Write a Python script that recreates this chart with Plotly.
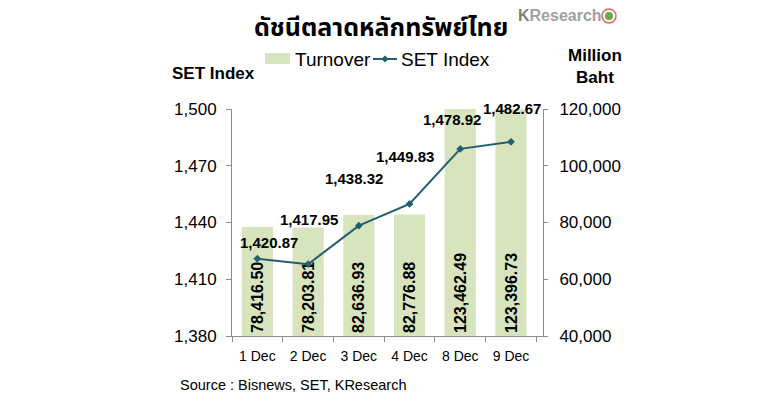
import plotly.graph_objects as go

categories = ["1 Dec", "2 Dec", "3 Dec", "4 Dec", "8 Dec", "9 Dec"]
turnover = [78416.50, 78203.81, 82636.93, 82776.88, 123462.49, 123396.73]
set_index = [1420.87, 1417.95, 1438.32, 1449.83, 1478.92, 1482.67]
left_ticks = [1380, 1410, 1440, 1470, 1500]
right_ticks = [40000, 60000, 80000, 100000, 120000]

# label offsets (px) for the SET Index labels (style only)
label_yshift = [16, 45, 47, 47, 29, 33]
label_xshift = [12, 1, -5, -5, -8, 1]

FONT = "Liberation Sans, Arial, sans-serif"
BAR_COLOR = "#d7e4bd"
LINE_COLOR = "#215e6e"
AXIS_COLOR = "#8c8c8c"
RIGHT_MIN = right_ticks[0]

# page body has an 8px default margin; figure is sized to fit the 780x405 window
OFF = 8
W, H = 780 - 2 * OFF, 405 - 2 * OFF
# plot area in window pixels
L0, R0, T0, B0 = 232, 543, 109, 336
L, R, T, B = L0 - OFF, R0 - OFF, T0 - OFF, B0 - OFF

fig = go.Figure()
fig.add_trace(go.Bar(
    x=categories, y=[v - RIGHT_MIN for v in turnover], base=RIGHT_MIN,
    name="Turnover", yaxis="y",
    marker=dict(color=BAR_COLOR, line=dict(width=0)),
    text=[f"{v:,.2f}" for v in turnover], textposition="inside",
    insidetextanchor="start", textangle=-90, constraintext="none",
    textfont=dict(family=FONT, size=16, color="black", weight="bold"),
    hoverinfo="skip",
))
fig.add_trace(go.Scatter(
    x=categories, y=set_index, name="SET Index", yaxis="y2",
    mode="lines+markers",
    line=dict(color=LINE_COLOR, width=2),
    marker=dict(symbol="diamond", size=6, color=LINE_COLOR),
))

for c, v, dy, dx in zip(categories, set_index, label_yshift, label_xshift):
    fig.add_annotation(x=c, y=v, xref="x", yref="y2", text=f"{v:,.2f}",
                       showarrow=False, yshift=dy, xshift=dx,
                       font=dict(family=FONT, size=15, color="black", weight="bold"))


def px(xp):
    return (xp - L0) / (R0 - L0)


def py(yp):
    return (B0 - yp) / (B0 - T0)


def note(x, y, text, size, bold=False, color="black", xanchor="center", family=FONT):
    fig.add_annotation(x=px(x), y=py(y), xref="paper", yref="paper", text=text,
                       showarrow=False, xanchor=xanchor, yanchor="middle",
                       font=dict(family=family, size=size, color=color,
                                 weight="bold" if bold else "normal"))


# title and logo
note(381, 28, "ดัชนีตลาดหลักทรัพย์ไทย", 25, bold=True,
     family="Noto Sans Thai, Tahoma, sans-serif")
note(516, 16, "<span style='color:#7f7f7f'>K</span>Research", 16, bold=True,
     color="#a0a0a0", xanchor="left")
fig.add_shape(type="circle", xref="paper", yref="paper",
              x0=px(602), x1=px(616), y0=py(23), y1=py(9),
              line=dict(color="#e06666", width=1.5), fillcolor="#f4f8ee")
fig.add_shape(type="circle", xref="paper", yref="paper",
              x0=px(605), x1=px(613), y0=py(20), y1=py(12),
              line=dict(width=0), fillcolor="#6aa84f")

# custom legend
fig.add_shape(type="rect", xref="paper", yref="paper",
              x0=px(265), x1=px(290), y0=py(64), y1=py(53),
              line=dict(width=0), fillcolor=BAR_COLOR)
note(293, 59, "Turnover", 19, xanchor="left")
fig.add_shape(type="line", xref="paper", yref="paper",
              x0=px(373), x1=px(397), y0=py(59), y1=py(59),
              line=dict(color=LINE_COLOR, width=2))
fig.add_shape(type="path", xref="paper", yref="paper",
              path=(f"M {px(385)},{py(55.5)} L {px(388.5)},{py(59)} "
                    f"L {px(385)},{py(62.5)} L {px(381.5)},{py(59)} Z"),
              line=dict(width=0), fillcolor=LINE_COLOR)
note(399, 59, "SET Index", 19, xanchor="left")

# axis titles and source
note(213, 74, "SET Index", 17, bold=True)
note(595, 66, "Million<br>Baht", 17, bold=True)
note(178, 385, "Source : Bisnews, SET, KResearch", 14.5, xanchor="left")

fig.update_layout(
    width=W, height=H,
    margin=dict(l=L, r=W - R, t=T, b=H - B),
    paper_bgcolor="white", plot_bgcolor="white",
    bargap=0.385,
    showlegend=False,
    xaxis=dict(showline=True, linecolor=AXIS_COLOR, ticks="outside", tickson="boundaries",
               tickcolor=AXIS_COLOR, ticklen=5, ticklabelstandoff=7,
               tickfont=dict(family=FONT, size=14, color="black")),
    yaxis=dict(side="right", range=[right_ticks[0], right_ticks[-1]], tickvals=right_ticks,
               tickformat=",d", showgrid=False, zeroline=False, showline=True,
               linecolor=AXIS_COLOR, ticks="outside", tickcolor=AXIS_COLOR, ticklen=4,
               ticklabelstandoff=8,
               tickfont=dict(family=FONT, size=17, color="black")),
    yaxis2=dict(side="left", overlaying="y", range=[left_ticks[0], left_ticks[-1]],
                tickvals=left_ticks,
                tickformat=",d", showgrid=False, zeroline=False, showline=True,
                linecolor=AXIS_COLOR, ticks="outside", tickcolor=AXIS_COLOR, ticklen=5,
                ticklabelstandoff=6,
                tickfont=dict(family=FONT, size=17, color="black")),
)

fig.write_html("out.html")
